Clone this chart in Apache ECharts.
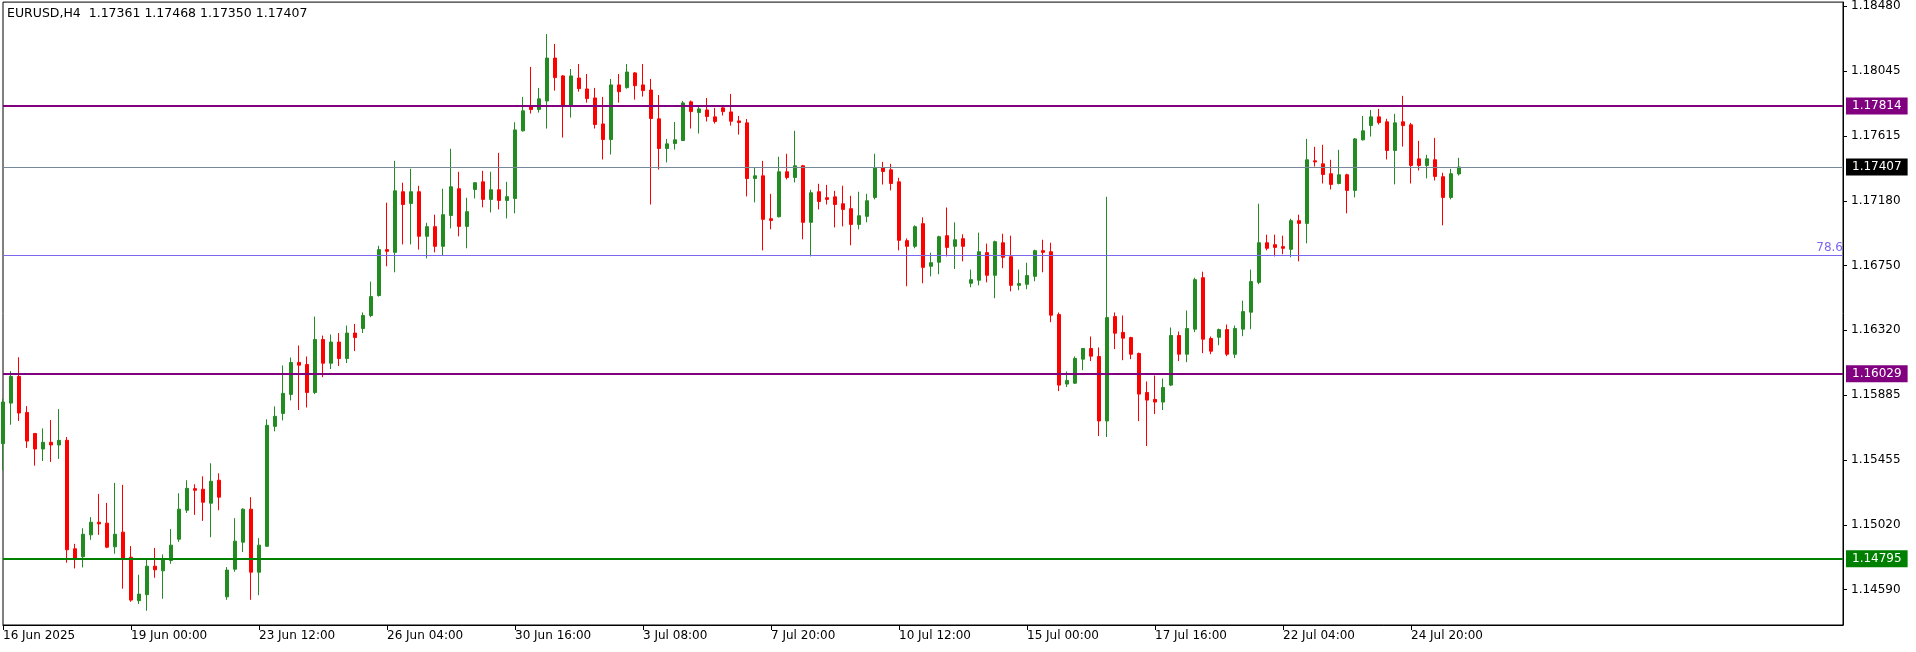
<!DOCTYPE html>
<html>
<head>
<meta charset="utf-8">
<script src="https://cdn.jsdelivr.net/npm/echarts@6/dist/echarts.min.js"></script>
<style>
html,body{margin:0;padding:0;background:#fff;}
#chart{width:1916px;height:652px;}
</style>
</head>
<body>
<div id="chart"></div>
<script>
// ---- data (EURUSD H4) ----
const opens = [
1.15563,1.15833,1.16011,1.15771,1.15631,1.15527,1.15572,1.15554,1.15585,1.14862,
1.14809,1.14955,1.15039,1.15033,1.14875,1.14973,1.14806,1.14516,1.14556,1.14746,
1.14715,1.14784,1.14926,1.15119,1.15263,1.15259,1.15166,1.15319,1.14542,1.14726,
1.14906,1.15126,1.14706,1.14879,1.15678,1.15764,1.15891,1.16104,1.16090,1.15904,
1.16257,1.16099,1.16240,1.16130,1.16300,1.16330,1.16417,1.16550,1.16856,1.16838,
1.17242,1.17164,1.17242,1.16945,1.17009,1.16878,1.17084,1.17262,1.17011,1.17257,
1.17308,1.17191,1.17255,1.17184,1.17197,1.17648,1.17814,1.17790,1.17847,1.18133,
1.18014,1.17816,1.18000,1.17927,1.17867,1.17694,1.17590,1.17954,1.17936,1.18034,
1.17954,1.17920,1.17728,1.17530,1.17563,1.17583,1.17841,1.17770,1.17787,1.17741,
1.17801,1.17774,1.17714,1.17701,1.17330,1.17348,1.17062,1.17075,1.17375,1.17337,
1.17415,1.17038,1.17242,1.17202,1.17208,1.17162,1.17129,1.17024,1.17078,1.17204,
1.17401,1.17388,1.17308,1.16916,1.16878,1.17029,1.16745,1.16772,1.16949,1.16878,
1.16929,1.16632,1.16652,1.16836,1.16685,1.16902,1.16809,1.16618,1.16625,1.16678,
1.16849,1.16842,1.16423,1.15960,1.15966,1.16126,1.16197,1.16144,1.15714,1.16410,
1.16304,1.16270,1.16164,1.15904,1.15858,1.15840,1.15953,1.16284,1.16159,1.16326,
1.16669,1.16264,1.16272,1.16323,1.16159,1.16326,1.16439,1.16638,1.16902,1.16889,
1.16876,1.16858,1.17049,1.17031,1.17448,1.17428,1.17362,1.17297,1.17355,1.17251,
1.17588,1.17683,1.17741,1.17708,1.17517,1.17708,1.17688,1.17461,1.17417,1.17455,
1.17342,1.17204,1.17361];
const highs = [
1.15862,1.16046,1.16139,1.15813,1.15633,1.15665,1.15720,1.15793,1.15607,1.14895,
1.14999,1.15073,1.15228,1.15168,1.15301,1.15288,1.14880,1.14689,1.14800,1.14868,
1.14824,1.14993,1.15232,1.15319,1.15292,1.15345,1.15432,1.15365,1.14740,1.15066,
1.15132,1.15206,1.14933,1.15725,1.15811,1.16084,1.16137,1.16217,1.16144,1.16410,
1.16283,1.16290,1.16300,1.16350,1.16360,1.16437,1.16643,1.16882,1.17169,1.17448,
1.17302,1.17395,1.17282,1.17035,1.17089,1.17262,1.17528,1.17375,1.17202,1.17305,
1.17381,1.17375,1.17501,1.17308,1.17705,1.17874,1.18074,1.17934,1.18293,1.18227,
1.18020,1.18060,1.18093,1.18027,1.17934,1.17874,1.17994,1.18027,1.18093,1.18040,
1.18093,1.17994,1.17887,1.17594,1.17707,1.17847,1.17850,1.17807,1.17867,1.17801,
1.17810,1.17894,1.17747,1.17727,1.17401,1.17448,1.17228,1.17475,1.17495,1.17648,
1.17421,1.17255,1.17295,1.17288,1.17248,1.17282,1.17215,1.17242,1.17228,1.17495,
1.17441,1.17428,1.17335,1.16931,1.17018,1.17071,1.16836,1.16949,1.17137,1.17038,
1.16958,1.16723,1.16969,1.16896,1.16916,1.16962,1.16949,1.16723,1.16769,1.16856,
1.16922,1.16902,1.16437,1.16044,1.16144,1.16200,1.16277,1.16204,1.17208,1.16437,
1.16417,1.16275,1.16170,1.15977,1.16017,1.15997,1.16337,1.16310,1.16450,1.16669,
1.16709,1.16277,1.16330,1.16357,1.16350,1.16516,1.16723,1.17162,1.16956,1.16956,
1.16949,1.17062,1.17089,1.17594,1.17541,1.17555,1.17455,1.17521,1.17362,1.17600,
1.17747,1.17787,1.17794,1.17728,1.17761,1.17881,1.17701,1.17581,1.17488,1.17601,
1.17368,1.17395,1.17468];
const lows = [
1.15385,1.15689,1.15714,1.15534,1.15416,1.15447,1.15441,1.15461,1.14769,1.14731,
1.14738,1.14922,1.14955,1.14866,1.14829,1.14596,1.14509,1.14494,1.14449,1.14669,
1.14529,1.14762,1.14908,1.15101,1.15088,1.15048,1.14939,1.15119,1.14522,1.14709,
1.14840,1.14522,1.14553,1.14875,1.15645,1.15718,1.15851,1.15787,1.15804,1.15893,
1.16006,1.16060,1.16080,1.16100,1.16180,1.16300,1.16406,1.16543,1.16745,1.16705,
1.16891,1.16891,1.16856,1.16798,1.16838,1.16820,1.16998,1.16945,1.16865,1.17197,
1.17138,1.17104,1.17124,1.17064,1.17098,1.17643,1.17763,1.17770,1.17663,1.17916,
1.17603,1.17736,1.17909,1.17836,1.17663,1.17457,1.17490,1.17836,1.17929,1.17856,
1.17876,1.17157,1.17390,1.17437,1.17523,1.17580,1.17663,1.17630,1.17710,1.17696,
1.17750,1.17683,1.17623,1.17211,1.17171,1.16851,1.16991,1.17071,1.17324,1.17304,
1.16925,1.16811,1.17124,1.17157,1.17004,1.17011,1.16885,1.16991,1.17038,1.17191,
1.17290,1.17251,1.16851,1.16612,1.16865,1.16632,1.16678,1.16692,1.16811,1.16727,
1.16778,1.16605,1.16618,1.16638,1.16532,1.16732,1.16578,1.16585,1.16592,1.16645,
1.16705,1.16372,1.15913,1.15940,1.15960,1.16053,1.16113,1.15614,1.15607,1.16193,
1.16119,1.16126,1.15713,1.15547,1.15760,1.15787,1.15946,1.16113,1.16106,1.16306,
1.16166,1.16159,1.16219,1.16146,1.16133,1.16279,1.16326,1.16625,1.16851,1.16811,
1.16825,1.16805,1.16778,1.16898,1.17410,1.17297,1.17257,1.17291,1.17098,1.17204,
1.17583,1.17610,1.17690,1.17457,1.17291,1.17543,1.17297,1.17384,1.17331,1.17317,
1.17018,1.17191,1.17350];
const closes = [
1.15840,1.16011,1.15767,1.15580,1.15527,1.15572,1.15554,1.15585,1.14855,1.14800,
1.14959,1.15039,1.15028,1.14873,1.14959,1.14800,1.14520,1.14560,1.14746,1.14722,
1.14791,1.14886,1.15126,1.15265,1.15252,1.15172,1.15312,1.15206,1.14720,1.14913,
1.15126,1.14706,1.14886,1.15685,1.15745,1.15898,1.16104,1.16086,1.15904,1.16257,
1.16099,1.16240,1.16130,1.16300,1.16270,1.16417,1.16543,1.16856,1.16845,1.17248,
1.17157,1.17242,1.16945,1.17009,1.16878,1.17089,1.17275,1.17011,1.17109,1.17302,
1.17191,1.17255,1.17184,1.17209,1.17654,1.17781,1.17790,1.17861,1.18133,1.18003,
1.17816,1.18014,1.17929,1.17863,1.17690,1.17590,1.17954,1.17909,1.18040,1.17949,
1.17916,1.17730,1.17530,1.17561,1.17588,1.17834,1.17776,1.17794,1.17743,1.17710,
1.17776,1.17712,1.17703,1.17330,1.17348,1.17058,1.17051,1.17375,1.17337,1.17415,
1.17038,1.17235,1.17177,1.17191,1.17157,1.17124,1.17024,1.17082,1.17182,1.17401,
1.17377,1.17297,1.16918,1.16878,1.17009,1.16738,1.16769,1.16942,1.16871,1.16922,
1.16878,1.16656,1.16842,1.16685,1.16909,1.16805,1.16618,1.16630,1.16683,1.16849,
1.16838,1.16419,1.15953,1.15984,1.16131,1.16197,1.16146,1.15714,1.16403,1.16299,
1.16266,1.16159,1.15893,1.15853,1.15840,1.15937,1.16284,1.16159,1.16330,1.16656,
1.16259,1.16179,1.16323,1.16159,1.16330,1.16443,1.16643,1.16902,1.16865,1.16871,
1.16865,1.17049,1.17031,1.17455,1.17441,1.17357,1.17291,1.17355,1.17251,1.17594,
1.17648,1.17741,1.17703,1.17517,1.17701,1.17683,1.17417,1.17417,1.17461,1.17344,
1.17204,1.17362,1.17407];

const timeLabels = ['16 Jun 2025','19 Jun 00:00','23 Jun 12:00','26 Jun 04:00','30 Jun 16:00','3 Jul 08:00',
                    '7 Jul 20:00','10 Jul 12:00','15 Jul 00:00','17 Jul 16:00','22 Jul 04:00','24 Jul 20:00'];
const barsPerLabel = 16;
const totalSlots = 231;   // visible bar slots incl. empty space to the right

const priceTicks = [1.18480,1.18045,1.17615,1.17180,1.16750,1.16320,1.15885,1.15455,1.15020,1.14590];
const yMin = 1.14354, yMax = 1.18506;

const levelLines = [1.17814, 1.16029];   // purple horizontal levels
const supportLine = 1.14795;             // green
const fibLevel = 1.16820, fibText = '78.6';
const symbolTitle = 'EURUSD,H4';

// ---- build ----
const n = opens.length;
const lastPrice = closes[n - 1];
const cats = Array.from({length: totalSlots}, (_, i) => String(i));
const candles = opens.map((o, i) => [o, closes[i], lows[i], highs[i]]);
const labelAt = {};
timeLabels.forEach((t, k) => { labelAt[k * barsPerLabel] = t; });
const font = 'DejaVu Sans';

function tag(v, bg, lineColor, width) {
  return {
    yAxis: v,
    lineStyle: {color: lineColor || bg, width: width || 2, type: 'solid'},
    label: {show: true, position: 'end', formatter: v.toFixed(5), color: '#fff', backgroundColor: bg,
            padding: [2, 6, 2, 6], distance: 3, fontFamily: font, fontSize: 12, lineHeight: 13}
  };
}

const chart = echarts.init(document.getElementById('chart'), null, {renderer: 'canvas'});
chart.setOption({
  animation: false,
  backgroundColor: '#fff',
  title: {
    text: symbolTitle + '  ' + [opens[n-1], highs[n-1], lows[n-1], closes[n-1]].map(v => v.toFixed(5)).join(' '),
    left: 7, top: 7, padding: 0,
    textStyle: {fontFamily: font, fontSize: 12.5, fontWeight: 'normal', color: '#000'}
  },
  grid: {left: 3, right: 73, top: 1, bottom: 27, show: true, borderColor: '#000', borderWidth: 1, containLabel: false},
  xAxis: {
    type: 'category', data: cats, boundaryGap: false,
    axisLine: {show: true, lineStyle: {color: '#000', width: 1}},
    axisTick: {show: true, length: 5, interval: (i) => labelAt[i] !== undefined, lineStyle: {color: '#000'}},
    axisLabel: {
      show: true, interval: (i) => labelAt[i] !== undefined,
      formatter: (v, i) => labelAt[i] || '',
      align: 'left', margin: 5, color: '#000', fontFamily: font, fontSize: 12
    },
    splitLine: {show: false}
  },
  yAxis: {
    type: 'value', position: 'right', min: yMin, max: yMax, scale: true,
    axisLine: {show: true, lineStyle: {color: '#000', width: 1}},
    axisTick: {show: true, length: 4, customValues: priceTicks, lineStyle: {color: '#000'}},
    axisLabel: {show: true, customValues: priceTicks, formatter: v => v.toFixed(5), margin: 8,
                color: '#000', fontFamily: font, fontSize: 12, padding: [3, 0, 0, 0]},
    splitLine: {show: false}
  },
  series: [{
    type: 'candlestick',
    data: candles,
    barWidth: 4,
    clip: true,
    z: 2,
    itemStyle: {color: '#228B22', color0: '#FF0000', borderColor: '#228B22', borderColor0: '#FF0000', borderWidth: 1}
  }, {
    type: 'line',
    data: [],
    z: 5,
    silent: true,
    markLine: {
      silent: true, symbol: ['none', 'none'], animation: false, precision: 5,
      data: [
        {yAxis: fibLevel, lineStyle: {color: '#7B68EE', width: 1, type: 'solid'},
         label: {show: true, position: 'insideEndTop', formatter: fibText, color: '#7B68EE', distance: [0, 1],
                 fontFamily: font, fontSize: 12}},
        tag(lastPrice, '#000', '#778899', 1),
        tag(levelLines[0], '#800080'),
        tag(levelLines[1], '#800080'),
        tag(supportLine, '#008000')
      ]
    }
  }]
});
</script>
</body>
</html>
